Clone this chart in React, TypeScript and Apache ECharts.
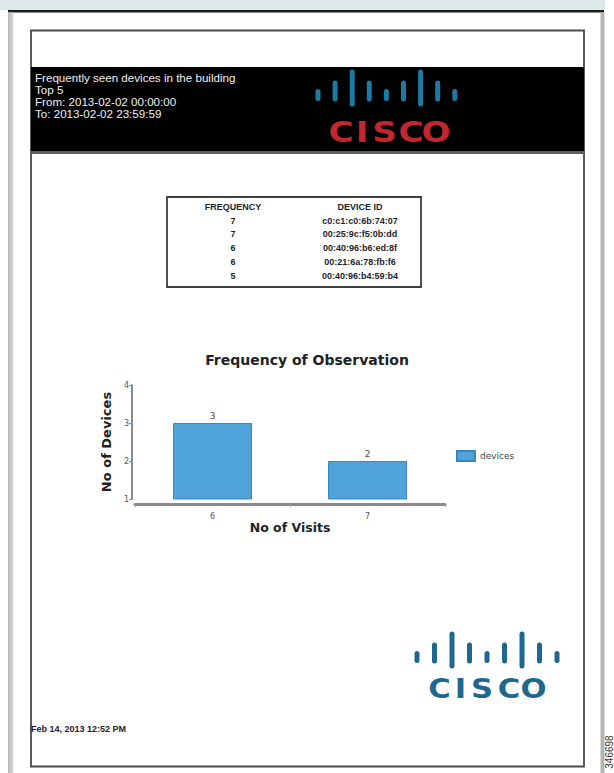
import React, { useEffect, useRef } from "react";
import * as echarts from "echarts";

// ---------- data ----------
const reportHeaderLines = [
  "Frequently seen devices in the building",
  "Top 5",
  "From: 2013-02-02 00:00:00",
  "To: 2013-02-02 23:59:59",
];
const tableColumns = ["FREQUENCY", "DEVICE ID"];
const tableFrequencies = [7, 7, 6, 6, 5];
const tableDeviceIds = [
  "c0:c1:c0:6b:74:07",
  "00:25:9c:f5:0b:dd",
  "00:40:96:b6:ed:8f",
  "00:21:6a:78:fb:f6",
  "00:40:96:b4:59:b4",
];
const chartTitle = "Frequency of Observation";
const visitCategories = ["6", "7"];
const deviceCounts = [3, 2];
const seriesName = "devices";
const xAxisName = "No of Visits";
const yAxisName = "No of Devices";
const logoWord = ["C", "I", "S", "C", "O"];
const reportDate = "Feb 14, 2013 12:52 PM";
const figureId = "346698";

// ---------- helpers ----------
const LOGO_KINDS = [0, 1, 2, 1, 0, 1, 2, 1, 0];

function ciscoLogo(
  x0: number,
  spacing: number,
  cy: number,
  barColor: string,
  letterXs: number[],
  textY: number,
  fontSize: number,
  textColor: string
) {
  const els: any[] = [];
  LOGO_KINDS.forEach((k, i) => {
    const h = k === 0 ? 12 : k === 1 ? 21 : 37;
    const c = k === 0 ? cy + 4 : k === 1 ? cy : cy - 3;
    els.push({
      type: "line",
      shape: { x1: x0 + i * spacing, y1: c - h / 2 + 2.5, x2: x0 + i * spacing, y2: c + h / 2 - 2.5 },
      style: { stroke: barColor, lineWidth: 5, lineCap: "round" },
      silent: true,
    });
  });
  logoWord.forEach((ch, i) => {
    els.push({
      type: "text",
      x: letterXs[i],
      y: textY,
      scaleX: 1.18,
      style: {
        text: ch,
        fill: textColor,
        font: `bold ${fontSize}px "DejaVu Sans", sans-serif`,
        align: "center",
        verticalAlign: "middle",
      },
      silent: true,
    });
  });
  return els;
}

export default function App() {
  const ref = useRef<HTMLDivElement>(null);

  useEffect(() => {
    if (!ref.current) return;
    const chart = echarts.init(ref.current, undefined, { renderer: "svg" });

    const graphics: any[] = [];
    // page chrome
    graphics.push({ type: "rect", shape: { x: 0, y: 0, width: 605, height: 10 }, style: { fill: "#dde9e9" }, silent: true });
    graphics.push({ type: "rect", shape: { x: 8, y: 10, width: 596, height: 2.5 }, style: { fill: "#1c1c1c" }, silent: true });
    graphics.push({
      type: "rect",
      shape: { x: 8, y: 12.5, width: 5.5, height: 761 },
      style: {
        fill: new echarts.graphic.LinearGradient(0, 0, 1, 0, [
          { offset: 0, color: "#b9b9b9" },
          { offset: 1, color: "#dcdcdc" },
        ]),
      },
      silent: true,
    });
    graphics.push({ type: "rect", shape: { x: 600.5, y: 12.5, width: 4, height: 761 }, style: { fill: "#b4b4b4" }, silent: true });
    // inner frame
    graphics.push({
      type: "rect",
      shape: { x: 31, y: 30.5, width: 553, height: 736 },
      style: { fill: "none", stroke: "#4a4a4a", lineWidth: 1.8 },
      silent: true,
    });
    // header band
    graphics.push({ type: "rect", shape: { x: 31, y: 67, width: 553, height: 84 }, style: { fill: "#000" }, silent: true });
    graphics.push({ type: "rect", shape: { x: 31, y: 151, width: 553, height: 3 }, style: { fill: "#5e5e5e" }, silent: true });
    reportHeaderLines.forEach((line, i) => {
      graphics.push({
        type: "text",
        x: 35,
        y: 77 + i * 12.1,
        style: {
          text: line,
          fill: "#f0f0f0",
          font: '11.6px "Liberation Sans", Arial, sans-serif',
          verticalAlign: "middle",
        },
        silent: true,
      });
    });
    graphics.push(...ciscoLogo(318, 17.1, 91, "#1c7aa5", [341, 362, 384.5, 411, 436], 131.5, 29, "#c1272d"));

    // table
    graphics.push({
      type: "rect",
      shape: { x: 167, y: 197, width: 254, height: 90 },
      style: { fill: "none", stroke: "#3f3f3f", lineWidth: 1.8 },
      silent: true,
    });
    const colX = [233, 360];
    tableColumns.forEach((c, i) => {
      graphics.push({
        type: "text",
        x: colX[i],
        y: 206.5,
        style: { text: c, fill: "#1e1e2a", font: 'bold 9px "Liberation Sans", Arial, sans-serif', align: "center", verticalAlign: "middle" },
        silent: true,
      });
    });
    tableFrequencies.forEach((f, i) => {
      const y = 220.5 + i * 13.9;
      graphics.push({
        type: "text",
        x: colX[0],
        y,
        style: { text: String(f), fill: "#1e1e2a", font: 'bold 9px "Liberation Sans", Arial, sans-serif', align: "center", verticalAlign: "middle" },
        silent: true,
      });
      graphics.push({
        type: "text",
        x: colX[1],
        y,
        style: { text: tableDeviceIds[i], fill: "#1e1e2a", font: 'bold 9px "Liberation Sans", Arial, sans-serif', align: "center", verticalAlign: "middle" },
        silent: true,
      });
    });

    // footer logo and date
    graphics.push(...ciscoLogo(417, 17.5, 653, "#1e6890", [439.5, 460.5, 482, 509, 533.5], 689.5, 26, "#1e6890"));
    graphics.push({
      type: "text",
      x: 31,
      y: 729,
      style: { text: reportDate, fill: "#2a2030", font: 'bold 9px "Liberation Sans", Arial, sans-serif', verticalAlign: "middle" },
      silent: true,
    });
    graphics.push({
      type: "text",
      x: 609,
      y: 752,
      rotation: Math.PI / 2,
      style: { text: figureId, fill: "#333", font: '10px "Liberation Sans", Arial, sans-serif', align: "center", verticalAlign: "middle" },
      silent: true,
    });

    chart.setOption({
      animation: false,
      backgroundColor: "#ffffff",
      textStyle: { fontFamily: '"DejaVu Sans", sans-serif' },
      title: {
        text: chartTitle,
        left: "center",
        top: 348,
        textStyle: { fontSize: 14, fontWeight: "bold", color: "#222", fontFamily: '"DejaVu Sans", sans-serif' },
      },
      legend: {
        data: [seriesName],
        left: 451,
        top: 445,
        icon: "rect",
        itemWidth: 18,
        itemHeight: 10,
        itemGap: 6,
        textStyle: { fontSize: 9, color: "#444" },
      },
      grid: { left: 135, right: 169, top: 385, bottom: 274 },
      xAxis: {
        type: "category",
        data: visitCategories,
        offset: 5,
        name: xAxisName,
        nameLocation: "middle",
        nameGap: 17,
        nameTextStyle: { fontSize: 12.5, fontWeight: "bold", color: "#222" },
        axisLine: { lineStyle: { color: "#8a8a8a", width: 3 } },
        axisTick: { show: true, length: 3, lineStyle: { color: "#9a9a9a", width: 1 } },
        axisLabel: { fontSize: 8, color: "#555", margin: 8 },
      },
      yAxis: {
        type: "value",
        min: 1,
        max: 4,
        interval: 1,
        offset: 3,
        name: yAxisName,
        nameLocation: "middle",
        nameGap: 15,
        nameTextStyle: { fontSize: 13, fontWeight: "bold", color: "#222" },
        axisLine: { show: true, lineStyle: { color: "#8a8a8a", width: 2 } },
        axisTick: { show: true, length: 3, lineStyle: { color: "#8a8a8a" } },
        axisLabel: { fontSize: 8, color: "#555", margin: 3 },
        splitLine: { show: false },
      },
      series: [
        {
          name: seriesName,
          type: "bar",
          data: deviceCounts,
          barWidth: 79,
          itemStyle: { color: "#4fa3d9", borderColor: "#3a86bd", borderWidth: 1 },
          label: { show: true, position: "top", fontSize: 9, color: "#444", distance: 3 },
        },
      ],
      graphic: graphics.map((g) => ({ ...g, z: -10 })),
    });

    return () => chart.dispose();
  }, []);

  return (
    <div
      ref={ref}
      style={{ position: "absolute", left: 0, top: 0, width: 614, height: 773 }}
    />
  );
}
